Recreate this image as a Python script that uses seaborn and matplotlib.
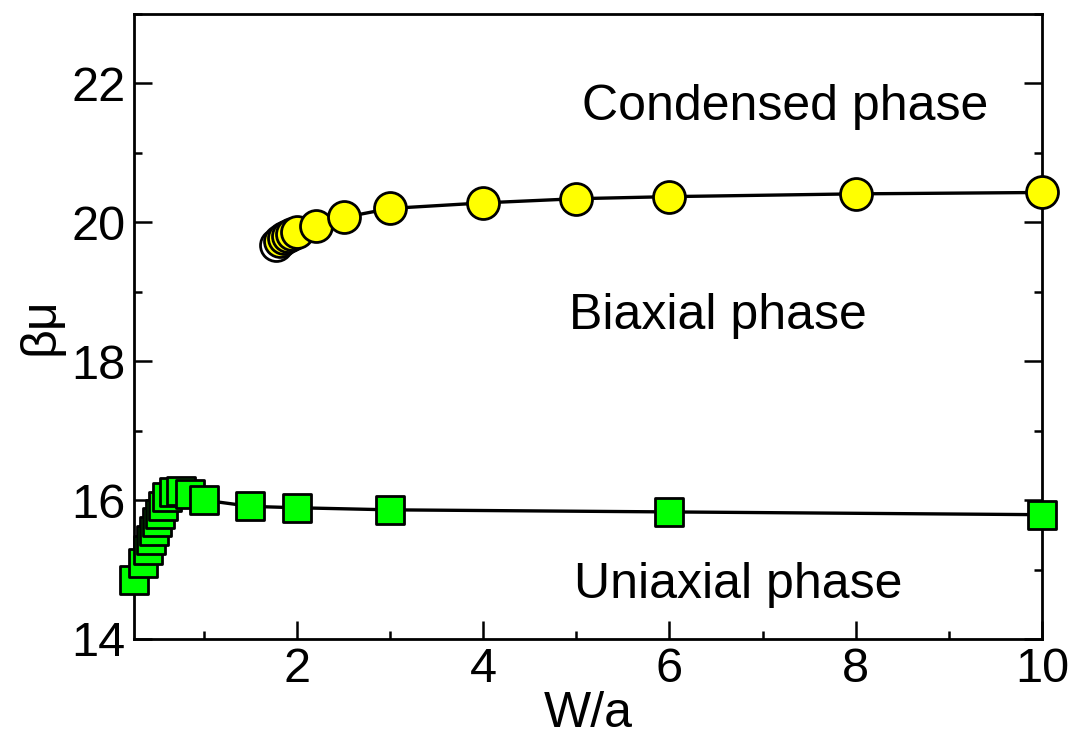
import matplotlib
matplotlib.use("Agg")
import matplotlib.pyplot as plt
from matplotlib.ticker import MultipleLocator
import seaborn as sns
import pandas as pd

# Uniaxial-biaxial boundary (green squares)
uni_x = [0.25, 0.35, 0.40, 0.43, 0.46, 0.50, 0.53, 0.56, 0.60, 0.68, 0.75, 0.85,
         1.0, 1.5, 2.0, 3.0, 6.0, 10.0]
uni_y = [14.85, 15.10, 15.28, 15.42, 15.55, 15.68, 15.80, 15.92, 16.04, 16.12, 16.13, 16.09,
         16.00, 15.91, 15.89, 15.86, 15.83, 15.79]

# Biaxial-condensed boundary (yellow circles)
open_x = [1.77]
open_y = [19.68]
cond_x = [1.82, 1.86, 1.90, 1.95, 2.0, 2.2, 2.5, 3.0, 4.0, 5.0, 6.0, 8.0, 10.0]
cond_y = [19.73, 19.77, 19.80, 19.83, 19.86, 19.95, 20.07, 20.20, 20.28, 20.34, 20.37, 20.41, 20.43]

phase_labels = ["Condensed phase", "Biaxial phase", "Uniaxial phase"]
label_x = [7.24, 6.52, 6.74]
label_y = [21.48, 18.47, 14.59]

sns.set_theme(style="ticks")
plt.rcParams["font.family"] = ["Liberation Sans", "DejaVu Sans"]
plt.rcParams["text.color"] = "black"
plt.rcParams["axes.labelcolor"] = "black"

fig = plt.figure(figsize=(10.75, 7.36), dpi=100)
ax = fig.add_axes([134 / 1075, 1 - 639 / 736, (1042 - 134) / 1075, (639 - 14) / 736])

uni = pd.DataFrame({"x": uni_x, "y": uni_y})
cond_line = pd.DataFrame({"x": open_x + cond_x, "y": open_y + cond_y})
cond = pd.DataFrame({"x": cond_x, "y": cond_y})
opn = pd.DataFrame({"x": open_x, "y": open_y})

sns.lineplot(data=uni, x="x", y="y", sort=False, color="black", linewidth=2.4, ax=ax, zorder=2)
sns.scatterplot(data=uni, x="x", y="y", marker="s", s=19.5 ** 2, color="#00ff00",
                edgecolor="black", linewidth=2.0, ax=ax, zorder=3, clip_on=False)

sns.lineplot(data=cond_line, x="x", y="y", sort=False, color="black", linewidth=2.4, ax=ax, zorder=2)
sns.scatterplot(data=opn, x="x", y="y", marker="o", s=23 ** 2, color="white",
                edgecolor="black", linewidth=2.0, ax=ax, zorder=2.5)
sns.scatterplot(data=cond, x="x", y="y", marker="o", s=23 ** 2, color="#ffff00",
                edgecolor="black", linewidth=2.0, ax=ax, zorder=3, clip_on=False)

for t, xx, yy in zip(phase_labels, label_x, label_y):
    ax.text(xx, yy, t, ha="center", va="baseline", fontsize=36, color="black")

ax.set_xlim(0.25, 10)
ax.set_ylim(14, 23)
ax.xaxis.set_major_locator(MultipleLocator(2))
ax.xaxis.set_minor_locator(MultipleLocator(1))
ax.yaxis.set_major_locator(MultipleLocator(2))
ax.yaxis.set_minor_locator(MultipleLocator(1))

ax.tick_params(which="both", direction="in", top=False, right=True, bottom=True, left=True,
               width=1.8, colors="black")
ax.tick_params(which="major", length=13, labelsize=35, pad=6)
ax.tick_params(which="minor", length=6)
ax.tick_params(axis="y", which="major", pad=6)

for sp in ax.spines.values():
    sp.set_linewidth(2.0)
    sp.set_color("black")

ax.set_xlabel("W/a", fontsize=36, labelpad=-1, color="black")
ax.set_ylabel("βμ", fontsize=36, labelpad=6, color="black")

fig.savefig("out.png", dpi=100)
